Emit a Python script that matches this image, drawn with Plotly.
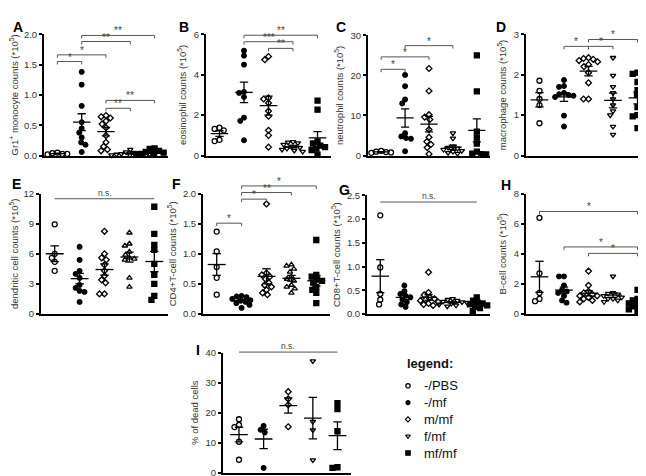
import numpy as np
import plotly.graph_objects as go

W, H = 646, 476
FONT = "Liberation Sans, Arial, Helvetica, sans-serif"

group_names = ["-/PBS", "-/mf", "m/mf", "f/mf", "mf/mf"]

# ---------------- data ----------------
gr1_monocyte = [
    [0.05, 0.04, 0.03, 0.03, 0.02],
    [1.38, 1.17, 0.82, 0.55, 0.45, 0.38, 0.30, 0.22, 0.18, 0.06],
    [0.66, 0.64, 0.62, 0.57, 0.52, 0.46, 0.33, 0.22, 0.15, 0.10, 0.08],
    [0.10, 0.06, 0.05, 0.04, 0.03, 0.03, 0.02, 0.02, 0.01, 0.01],
    [0.12, 0.11, 0.08, 0.06, 0.05, 0.04, 0.03, 0.02, 0.02, 0.01],
]
eosinophil = [
    [1.38, 1.32, 1.25, 0.78, 0.72],
    [5.19, 4.94, 4.50, 3.15, 3.10, 2.90, 1.88, 1.72, 0.76],
    [4.90, 4.74, 2.85, 2.80, 2.60, 2.20, 1.95, 1.25, 1.00, 0.42],
    [0.68, 0.66, 0.62, 0.55, 0.45, 0.40, 0.35, 0.30, 0.25, 0.20],
    [2.72, 2.27, 0.70, 0.60, 0.50, 0.42, 0.35, 0.28, 0.05],
]
neutrophil = [
    [1.2, 1.0, 0.9, 0.8, 0.7],
    [20.1, 17.3, 14.0, 13.0, 5.6, 4.8, 4.4, 4.2, 1.1],
    [21.7, 16.1, 10.2, 9.6, 9.0, 6.5, 4.6, 3.5, 2.8, 2.0, 0.4],
    [5.6, 4.3, 2.3, 2.0, 1.8, 1.5, 1.2, 1.0, 0.7, 0.5],
    [25.0, 16.0, 6.0, 4.5, 3.0, 1.0, 0.5, 0.4, 0.3],
]
macrophage = [
    [1.85, 1.60, 1.40, 1.25, 0.80],
    [1.87, 1.72, 1.70, 1.55, 1.52, 1.50, 1.48, 1.45, 0.99, 0.72],
    [2.42, 2.40, 2.38, 2.35, 2.32, 2.25, 2.20, 2.05, 1.80, 1.40, 1.40],
    [2.42, 1.98, 1.70, 1.55, 1.40, 1.25, 1.10, 1.00, 0.72, 0.52],
    [2.05, 2.02, 1.82, 1.62, 1.50, 1.42, 1.20, 1.00, 0.97, 0.68],
]
dendritic = [
    [8.95, 6.0, 5.6, 5.2, 4.3],
    [6.7, 5.4, 4.3, 4.0, 3.6, 2.9, 2.6, 2.3, 2.2, 1.2],
    [8.25, 6.0, 5.6, 5.4, 4.9, 4.3, 3.8, 3.4, 3.1, 2.0, 2.0],
    [8.1, 7.0, 6.8, 6.2, 5.9, 5.6, 5.5, 5.4, 3.6, 2.7],
    [10.7, 8.0, 6.9, 6.4, 5.0, 3.9, 3.0, 1.8, 1.4],
]
cd4_t = [
    [1.37, 1.04, 0.78, 0.60, 0.32],
    [0.30, 0.29, 0.28, 0.25, 0.23, 0.22, 0.20, 0.18, 0.15, 0.10],
    [1.83, 0.68, 0.65, 0.62, 0.58, 0.52, 0.48, 0.45, 0.40, 0.35, 0.32],
    [0.82, 0.80, 0.75, 0.70, 0.62, 0.58, 0.55, 0.48, 0.45, 0.42, 0.35],
    [1.23, 0.65, 0.62, 0.57, 0.55, 0.52, 0.45, 0.40, 0.35, 0.18],
]
cd8_t = [
    [2.08, 0.98, 0.42, 0.30, 0.20],
    [0.60, 0.48, 0.42, 0.38, 0.35, 0.30, 0.25, 0.20, 0.15],
    [0.88, 0.45, 0.40, 0.35, 0.32, 0.30, 0.28, 0.25, 0.22, 0.20, 0.18],
    [0.32, 0.30, 0.28, 0.26, 0.25, 0.24, 0.22, 0.20, 0.18, 0.16],
    [0.35, 0.28, 0.24, 0.22, 0.20, 0.18, 0.15, 0.12, 0.06],
]
b_cell = [
    [6.4, 2.7, 1.4, 1.0, 0.85],
    [2.5, 2.5, 1.9, 1.6, 1.5, 1.4, 1.2, 0.9, 0.75],
    [2.85, 1.9, 1.5, 1.4, 1.3, 1.2, 1.2, 1.1, 1.0, 0.9, 0.8],
    [2.5, 1.4, 1.35, 1.3, 1.2, 1.1, 1.0, 1.0, 0.9, 0.8],
    [1.6, 1.0, 0.9, 0.8, 0.7, 0.6, 0.5, 0.4, 0.3, 0.2],
]
dead_cells = [
    [17.8, 15.9, 15.2, 10.3, 4.3],
    [15.6, 14.3, 13.4, 1.6],
    [27.0, 24.6, 22.6, 15.3],
    [37.2, 17.0, 14.2, 4.2],
    [23.2, 21.2, 13.8, 1.8, 1.6],
]

# significance brackets: (group a, group b, level, label)
brackets_A = [(1, 2, 1.55, "*"), (1, 3, 1.66, "*"), (2, 4, 1.88, "**"),
              (2, 5, 1.98, "**"), (3, 4, 0.78, "**"), (3, 5, 0.91, "**")]
brackets_B = [(2, 5, 5.95, "**"), (2, 4, 5.63, "***"), (3, 4, 5.30, "**")]
brackets_C = [(1, 2, 21.5, "*"), (1, 3, 24.6, "*"), (2, 4, 27.4, "*")]
brackets_D = [(2, 3, 2.70, "*"), (3, 4, 2.70, "*"), (3, 5, 2.87, "*")]
brackets_E = [(1, 5, 11.5, "n.s.")]
brackets_F = [(1, 2, 1.51, "*"), (2, 3, 1.91, "*"), (2, 4, 2.02, "**"), (2, 5, 2.13, "*")]
brackets_G = [(1, 5, 2.36, "n.s.")]
brackets_H = [(1, 5, 6.82, "*"), (2, 5, 4.46, "*"), (3, 5, 4.03, "*")]
brackets_I = [(1, 5, 40.2, "n.s.")]

# ---------------- panel layout (pixel boxes of the plotting areas) ----------------
panels = [
    dict(letter="A", vals=gr1_monocyte, title="Gr1<sup>+</sup> monocyte counts (*10<sup>5</sup>)",
         top=2.0, dtick=0.5, fmt=".1f", box=(36, 160, 20.7, 145), xr=(0.45, 5.55),
         br=brackets_A, tri="triangle-down-open", lab=(3, 3)),
    dict(letter="B", vals=eosinophil, title="eosinophil counts (*10<sup>5</sup>)",
         top=6, dtick=2, fmt="d", box=(198, 323, 20.7, 145), xr=(0.45, 5.55),
         br=brackets_B, tri="triangle-down-open", lab=(169, 3)),
    dict(letter="C", vals=neutrophil, title="neutrophil counts (*10<sup>5</sup>)",
         top=30, dtick=10, fmt="d", box=(360, 482, 21.7, 145), xr=(0.45, 5.55),
         br=brackets_C, tri="triangle-down-open", lab=(326, 3)),
    dict(letter="D", vals=macrophage, title="macrophage counts (*10<sup>5</sup>)",
         top=3, dtick=1, fmt="d", box=(518, 643, 20.7, 145), xr=(0.45, 5.55),
         br=brackets_D, tri="triangle-down-open", lab=(486, 3)),
    dict(letter="E", vals=dendritic, title="dendritic cell counts (*10<sup>5</sup>)",
         top=12, dtick=3, fmt="d", box=(33, 160, 184, 307), xr=(0.45, 5.55),
         br=brackets_E, tri="triangle-up-open", lab=(2, 164)),
    dict(letter="F", vals=cd4_t, title="CD4+T-cell counts (*10<sup>5</sup>)",
         top=2.0, dtick=0.5, fmt=".1f", box=(195, 322, 184, 307), xr=(0.45, 5.55),
         br=brackets_F, tri="triangle-up-open", lab=(162, 164)),
    dict(letter="G", vals=cd8_t, title="CD8+T-cell counts (*10<sup>5</sup>)",
         top=2.5, dtick=0.5, fmt=".1f", box=(359, 482, 185.7, 307), xr=(0.45, 5.55),
         br=brackets_G, tri="triangle-down-open", lab=(329, 170)),
    dict(letter="H", vals=b_cell, title="B-cell counts (*10<sup>5</sup>)",
         top=8, dtick=2, fmt="d", box=(518, 643, 184, 307), xr=(0.45, 5.55),
         br=brackets_H, tri="triangle-down-open", lab=(491, 165)),
    dict(letter="I", vals=dead_cells, title="% of dead cells",
         top=40, dtick=10, fmt="d", box=(215, 343, 346.7, 469.5), xr=(0.35, 5.55),
         br=brackets_I, tri="triangle-down-open", lab=(186, 334)),
]

MEAN_HW = 0.36
CAP_HW = 0.17
MARK_D = 5.0  # px spacing for the column scatter
SIZES = [5, 4.6, 4.5, 4.8, 5]


def swarm(ypx, d):
    """Deterministic beeswarm offsets (px) for values already in px."""
    order = sorted(range(len(ypx)), key=lambda i: -ypx[i])
    placed, offs = [], [0.0] * len(ypx)
    for i in order:
        y = ypx[i]
        iv = []
        for xj, yj in placed:
            dy = abs(y - yj)
            if dy < d:
                dx = (d * d - dy * dy) ** 0.5
                iv.append((xj - dx, xj + dx))
        cands = [0.0] + [a for a, b in iv] + [b for a, b in iv]
        cands.sort(key=lambda c: (abs(c), c))
        x = 0.0
        for c in cands:
            if all(not (a + 1e-6 < c < b - 1e-6) for a, b in iv):
                x = c
                break
        placed.append((x, y))
        offs[i] = x
    return offs


fig = go.Figure()
layout = dict(width=W, height=H, margin=dict(l=0, r=0, t=0, b=0),
              plot_bgcolor="white", paper_bgcolor="white", showlegend=False,
              font=dict(family=FONT, color="#222"), shapes=[], annotations=[])

for pi, p in enumerate(panels):
    n = pi + 1
    xs = "" if n == 1 else str(n)
    xref, yref = "x" + xs, "y" + xs
    x0, x1, yt, yb = p["box"]
    wpx, hpx = x1 - x0, yb - yt
    xppu = wpx / (p["xr"][1] - p["xr"][0])
    yppu = hpx / p["top"]
    layout["xaxis" + xs] = dict(domain=[x0 / W, x1 / W], range=list(p["xr"]), anchor=yref,
                                showline=True, linewidth=2, linecolor="black",
                                showticklabels=False, ticks="", showgrid=False, zeroline=False,
                                fixedrange=True)
    tv = list(np.arange(0, p["top"] + 1e-9, p["dtick"]))
    layout["yaxis" + xs] = dict(domain=[1 - yb / H, 1 - yt / H], range=[0, p["top"]], anchor=xref,
                                showline=True, linewidth=2, linecolor="black",
                                ticks="outside", ticklen=3, tickwidth=1.5, tickcolor="black",
                                tickvals=tv, tickformat=p["fmt"],
                                tickfont=dict(size=9.5, color="#333", family=FONT),
                                title=dict(text=p["title"], font=dict(size=9.5, color="#333"), standoff=5),
                                showgrid=False, zeroline=False, fixedrange=True)
    symbols = ["circle-open", "circle", "diamond-open", p["tri"], "square"]
    for g, vals in enumerate(p["vals"]):
        cx = g + 1
        offs = swarm([v * yppu for v in vals], MARK_D)
        fig.add_trace(go.Scatter(
            x=[cx + o / xppu for o in offs], y=vals, mode="markers", xaxis=xref, yaxis=yref,
            name=group_names[g], cliponaxis=False,
            marker=dict(symbol=symbols[g], size=SIZES[g], color="black",
                        line=dict(color="black", width=1.3))))
        arr = np.array(vals)
        m = arr.mean()
        s = arr.std(ddof=1) / np.sqrt(len(arr))
        fig.add_trace(go.Scatter(
            x=[cx - MEAN_HW, cx + MEAN_HW, None, cx, cx, None,
               cx - CAP_HW, cx + CAP_HW, None, cx - CAP_HW, cx + CAP_HW],
            y=[m, m, None, m - s, m + s, None, m + s, m + s, None, m - s, m - s],
            mode="lines", xaxis=xref, yaxis=yref, cliponaxis=False,
            line=dict(color="black", width=1.3), hoverinfo="skip"))
    # brackets (y in axis-domain fraction so they can sit above the top tick)
    tick = 3.0 / hpx
    for a, b, lev, lab in p["br"]:
        yd = lev / p["top"]
        ns = lab == "n.s."
        col = "#555555"
        segs = [(a, yd, b, yd)] if ns else [(a, yd - tick, a, yd), (a, yd, b, yd), (b, yd, b, yd - tick)]
        for sx0, sy0, sx1, sy1 in segs:
            layout["shapes"].append(dict(type="line", xref=xref, yref=yref + " domain",
                                         x0=sx0, y0=sy0, x1=sx1, y1=sy1,
                                         line=dict(color=col, width=1)))
        layout["annotations"].append(dict(
            x=(a + b) / 2, y=yd, xref=xref, yref=yref + " domain", text=lab, showarrow=False,
            xanchor="center", yanchor="bottom", yshift=(-1 if ns else -3),
            font=dict(size=(8.5 if ns else 10), color="#444444", family=FONT)))
    lx, ly = p["lab"]
    layout["annotations"].append(dict(
        x=lx / W, y=1 - ly / H, xref="paper", yref="paper", text="<b>%s</b>" % p["letter"],
        showarrow=False, xanchor="left", yanchor="top",
        font=dict(size=14, color="black", family=FONT)))

# ---------------- custom legend on a hidden axis pair ----------------
LX0, LX1, LY0, LY1 = 390, 470, 372, 458
layout["xaxis10"] = dict(domain=[LX0 / W, LX1 / W], range=[LX0, LX1], anchor="y10", visible=False,
                         fixedrange=True)
layout["yaxis10"] = dict(domain=[1 - LY1 / H, 1 - LY0 / H], range=[len(group_names) - 0.5, -0.5],
                         anchor="x10", visible=False, fixedrange=True)
leg_symbols = ["circle-open", "circle", "diamond-open", "triangle-down-open", "square"]
for g, name in enumerate(group_names):
    fig.add_trace(go.Scatter(x=[400], y=[g], xaxis="x10", yaxis="y10", mode="markers",
                             cliponaxis=False,
                             marker=dict(symbol=leg_symbols[g], size=SIZES[g] - 0.6, color="black",
                                         line=dict(color="black", width=1.2))))
    layout["annotations"].append(dict(x=414, y=g, xref="x10", yref="y10", text=name,
                                      showarrow=False, xanchor="left", yanchor="middle",
                                      font=dict(size=13, color="#111", family=FONT)))
layout["annotations"].append(dict(x=397 / W, y=1 - 358 / H, xref="paper", yref="paper",
                                  text="<b>legend:</b>", showarrow=False, xanchor="left",
                                  yanchor="middle", font=dict(size=13, color="#111", family=FONT)))

fig.update_layout(**layout)
fig.write_html("out.html")
